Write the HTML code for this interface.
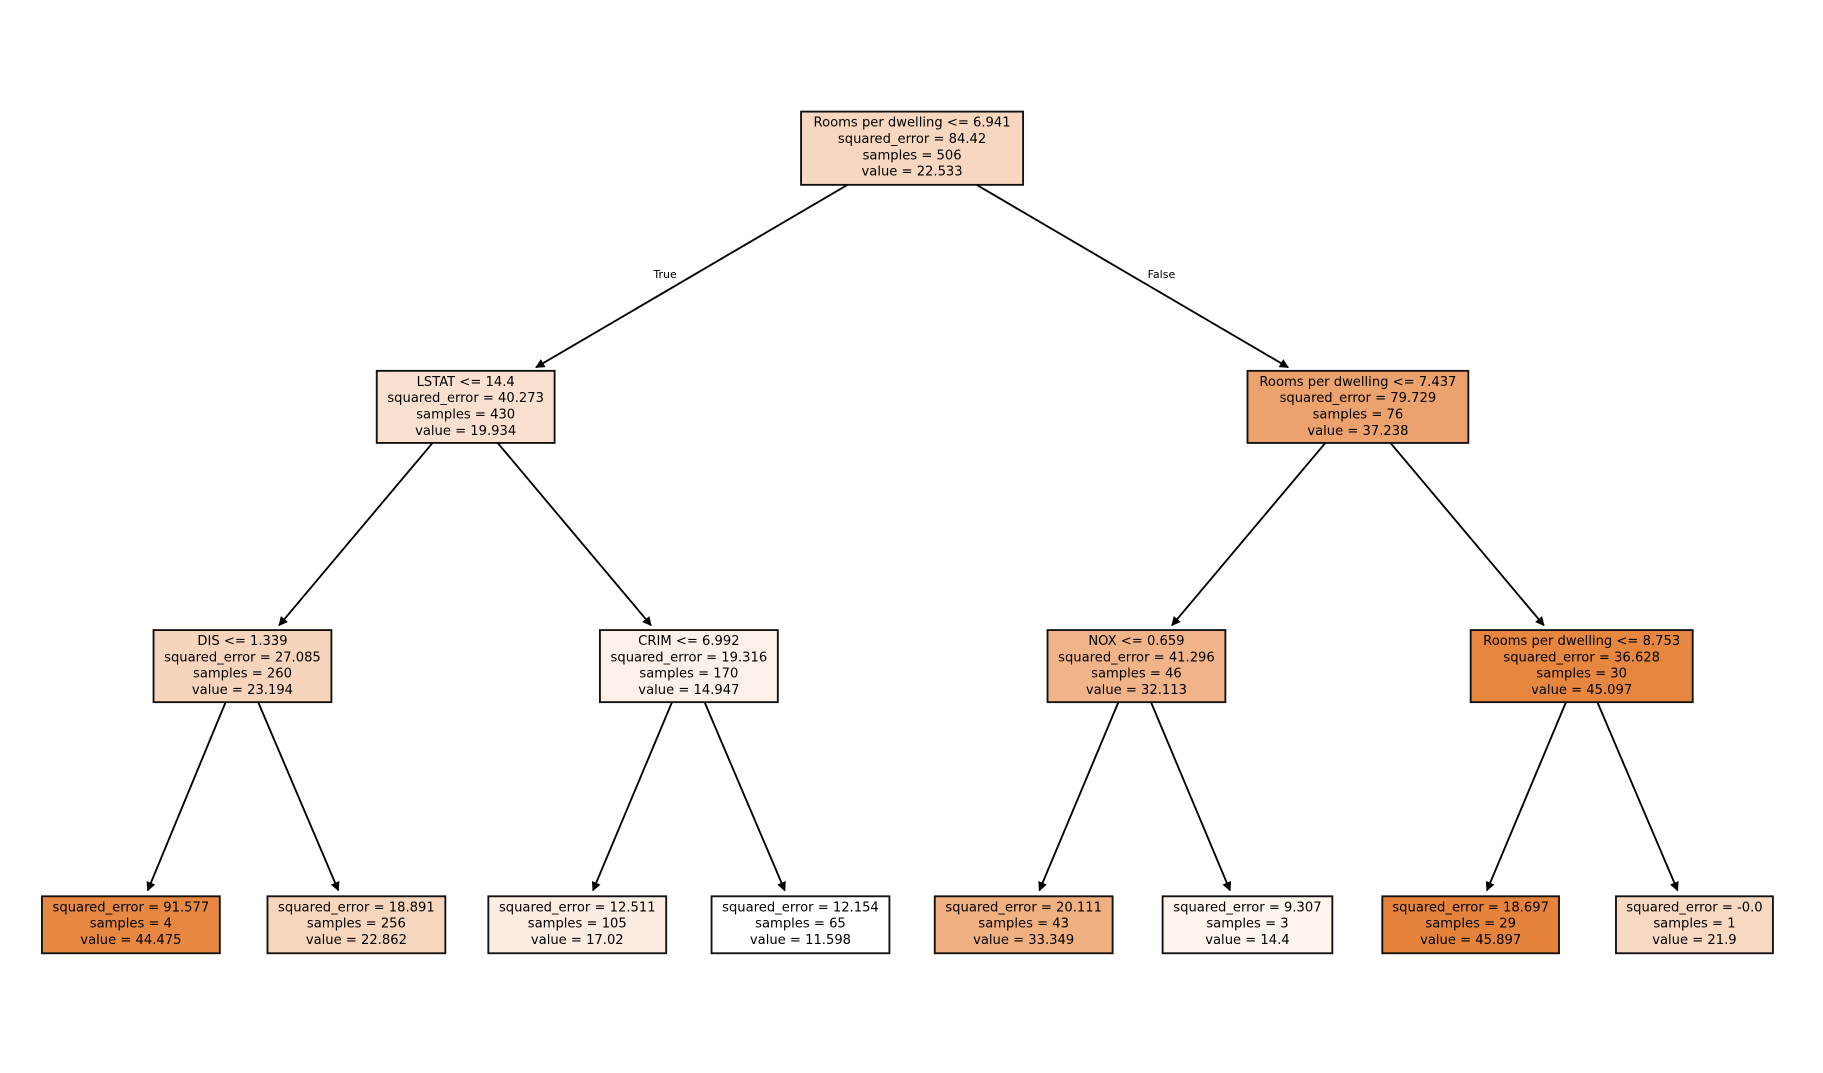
<!DOCTYPE html>
<html><head><meta charset="utf-8"><style>
html,body{margin:0;padding:0;background:#fff;width:1823px;height:1073px;overflow:hidden}
text{font-family:"DejaVu Sans","Liberation Sans",sans-serif;font-size:11.3px;fill:#000;text-anchor:middle}
rect{stroke:#111;stroke-width:1.6}
line{stroke:#000;stroke-width:1.6}
</style></head><body>
<svg width="1823" height="1073" viewBox="0 0 1568 923" xmlns="http://www.w3.org/2000/svg">
<defs><marker id="a" viewBox="0 0 10 10" refX="9" refY="5" markerWidth="5" markerHeight="5" orient="auto"><path d="M0,0 L10,5 L0,10 z" fill="#000"/></marker></defs>
<g marker-end="url(#a)">
<line x1="729" y1="159" x2="461" y2="316"/>
<line x1="840" y1="159" x2="1108" y2="316"/>
<line x1="372" y1="381" x2="240" y2="538"/>
<line x1="428" y1="381" x2="560" y2="538"/>
<line x1="1140" y1="381" x2="1008" y2="538"/>
<line x1="1196" y1="381" x2="1328" y2="538"/>
<line x1="194" y1="604" x2="127" y2="766"/>
<line x1="222" y1="604" x2="291" y2="766"/>
<line x1="578" y1="604" x2="510" y2="766"/>
<line x1="606" y1="604" x2="675" y2="766"/>
<line x1="962" y1="604" x2="894" y2="766"/>
<line x1="990" y1="604" x2="1058" y2="766"/>
<line x1="1347" y1="604" x2="1279" y2="766"/>
<line x1="1374" y1="604" x2="1443" y2="766"/>
</g>
<text x="572" y="239" style="font-size:9.5px">True</text>
<text x="999" y="239" style="font-size:9.5px">False</text>

<rect x="689" y="96" width="191" height="63" fill="#f7d7bf"/>
<text x="784.5" y="109">Rooms per dwelling &lt;= 6.941</text><text x="784.5" y="123">squared_error = 84.42</text><text x="784.5" y="137">samples = 506</text><text x="784.5" y="151">value = 22.533</text>

<rect x="324" y="319" width="153" height="62" fill="#fae1cf"/>
<text x="400.5" y="332">LSTAT &lt;= 14.4</text><text x="400.5" y="346">squared_error = 40.273</text><text x="400.5" y="360">samples = 430</text><text x="400.5" y="374">value = 19.934</text>

<rect x="1073" y="319" width="190" height="62" fill="#eca26c"/>
<text x="1168" y="332">Rooms per dwelling &lt;= 7.437</text><text x="1168" y="346">squared_error = 79.729</text><text x="1168" y="360">samples = 76</text><text x="1168" y="374">value = 37.238</text>

<rect x="132" y="542" width="153" height="62" fill="#f6d5bc"/>
<text x="208.5" y="555">DIS &lt;= 1.339</text><text x="208.5" y="569">squared_error = 27.085</text><text x="208.5" y="583">samples = 260</text><text x="208.5" y="597">value = 23.194</text>

<rect x="516" y="542" width="153" height="62" fill="#fcf1e9"/>
<text x="592.5" y="555">CRIM &lt;= 6.992</text><text x="592.5" y="569">squared_error = 19.316</text><text x="592.5" y="583">samples = 170</text><text x="592.5" y="597">value = 14.947</text>

<rect x="901" y="542" width="153" height="62" fill="#f0b488"/>
<text x="977.5" y="555">NOX &lt;= 0.659</text><text x="977.5" y="569">squared_error = 41.296</text><text x="977.5" y="583">samples = 46</text><text x="977.5" y="597">value = 32.113</text>

<rect x="1265" y="542" width="191" height="62" fill="#e6863f"/>
<text x="1360.5" y="555">Rooms per dwelling &lt;= 8.753</text><text x="1360.5" y="569">squared_error = 36.628</text><text x="1360.5" y="583">samples = 30</text><text x="1360.5" y="597">value = 45.097</text>

<rect x="36" y="771" width="153" height="49" fill="#e68742"/>
<text x="112.5" y="784">squared_error = 91.577</text><text x="112.5" y="798">samples = 4</text><text x="112.5" y="812">value = 44.475</text>

<rect x="230" y="771" width="153" height="49" fill="#f7d6be"/>
<text x="306.5" y="784">squared_error = 18.891</text><text x="306.5" y="798">samples = 256</text><text x="306.5" y="812">value = 22.862</text>

<rect x="420" y="771" width="153" height="49" fill="#fcece1"/>
<text x="496.5" y="784">squared_error = 12.511</text><text x="496.5" y="798">samples = 105</text><text x="496.5" y="812">value = 17.02</text>

<rect x="612" y="771" width="153" height="49" fill="#ffffff"/>
<text x="688.5" y="784">squared_error = 12.154</text><text x="688.5" y="798">samples = 65</text><text x="688.5" y="812">value = 11.598</text>

<rect x="804" y="771" width="153" height="49" fill="#f0b07f"/>
<text x="880.5" y="784">squared_error = 20.111</text><text x="880.5" y="798">samples = 43</text><text x="880.5" y="812">value = 33.349</text>

<rect x="1000" y="771" width="146" height="49" fill="#fdf4ee"/>
<text x="1073" y="784">squared_error = 9.307</text><text x="1073" y="798">samples = 3</text><text x="1073" y="812">value = 14.4</text>

<rect x="1189" y="771" width="152" height="49" fill="#e5833d"/>
<text x="1265" y="784">squared_error = 18.697</text><text x="1265" y="798">samples = 29</text><text x="1265" y="812">value = 45.897</text>

<rect x="1390" y="771" width="135" height="49" fill="#f7d8c1"/>
<text x="1457.5" y="784">squared_error = -0.0</text><text x="1457.5" y="798">samples = 1</text><text x="1457.5" y="812">value = 21.9</text>
</svg>
</body></html>
